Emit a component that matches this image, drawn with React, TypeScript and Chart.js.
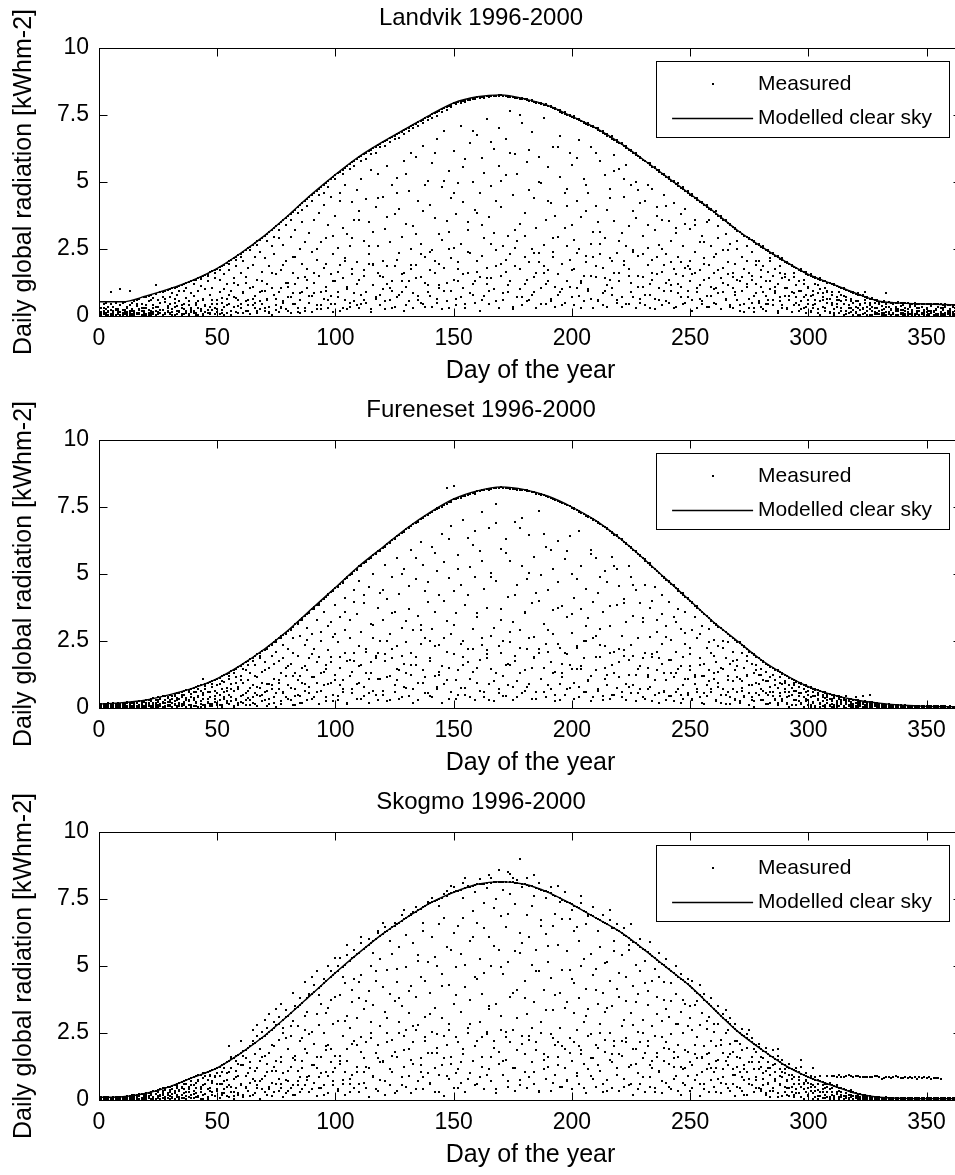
import React, { useEffect, useRef } from "react";
import { Chart, registerables } from "chart.js";

Chart.register(...registerables);

const FONT = "'Liberation Sans', Arial, Helvetica, sans-serif";

// ---------- data ----------
const clearDays = [0, 10, 20, 30, 40, 50, 60, 70, 80, 90, 100, 110, 120, 130, 140, 150, 160, 170, 180, 190, 200, 210, 220, 230, 240, 250, 260, 270, 280, 290, 300, 310, 320, 330, 340, 350, 360, 365];

const landvikClear = [0.53, 0.53, 0.75, 1.02, 1.35, 1.78, 2.35, 3.0, 3.75, 4.55, 5.28, 5.95, 6.5, 7.0, 7.5, 7.95, 8.18, 8.25, 8.1, 7.85, 7.45, 7.02, 6.48, 5.85, 5.2, 4.55, 3.9, 3.2, 2.6, 2.05, 1.55, 1.2, 0.85, 0.55, 0.48, 0.45, 0.42, 0.41];
const furenesetClear = [0.15, 0.2, 0.3, 0.5, 0.75, 1.1, 1.6, 2.2, 2.9, 3.7, 4.5, 5.3, 6.0, 6.7, 7.3, 7.8, 8.1, 8.25, 8.15, 7.9, 7.5, 7.0, 6.35, 5.6, 4.8, 4.0, 3.2, 2.5, 1.8, 1.25, 0.8, 0.5, 0.3, 0.18, 0.1, 0.06, 0.05, 0.05];
const skogmoClear = [0.1, 0.12, 0.25, 0.5, 0.85, 1.2, 1.75, 2.4, 3.15, 3.95, 4.75, 5.5, 6.2, 6.8, 7.35, 7.75, 8.05, 8.15, 8.05, 7.75, 7.3, 6.8, 6.3, 5.65, 4.95, 4.25, 3.4, 2.57, 1.9, 1.3, 0.85, 0.55, 0.25, 0.1, 0.06, 0.05, 0.05, 0.05];

// measured values, one row per day of the year (day 0 .. 365), part A
const landvikMeasuredA: number[][] = [
  [0.16,0.05,0.3],[0.31,0.14,0.02],[0.28,0.45,0.1],[0.5,0.12,0.03],[0.2,0.04,0.35],[0.44,0.08,0.9],[0.33,0.18,0.01],[0.05,0.48,0.22],[0.12,0.27,0.06],[0.02,0.4,1.0],
  [0.47,0.11,0.03],[0.22,0.52,0.08],[0.01,0.3,0.15],[0.95,0.18,0.42],[0.26,0.03,0.5],[0.55,0.09,0.2],[0.13,0.36,0.6],[0.64,0.07,0.25],[0.02,0.43,0.17],[0.7,0.28,0.05],
  [0.3,0.72,0.04],[0.12,0.55,0.76],[0.79,0.2,0.02],[0.41,0.08,0.66],[1.15,0.35,0.82],[0.06,0.6,0.15],[0.88,0.24,0.47],[0.03,0.71,0.91],[0.52,0.93,0.1],[0.96,0.19,0.37],
  [0.45,1.0,0.07],[0.84,0.15,1.03],[1.06,0.33,0.62],[0.09,0.78,1.1],[0.57,1.13,0.2],[1.16,0.03,0.41],[0.27,0.95,1.2],[1.22,0.68,0.11],[0.4,0.05,1.27],[1.3,0.85,0.22],
  [0.13,1.33,0.74],[1.36,0.5,0.04],[0.94,1.42,0.29],[1.46,0.18,1.12],[0.62,1.5,0.08],[1.53,0.36,0.99],[0.21,1.58,1.3],[1.63,0.77,0.12],[1.05,1.67,0.45],[0.3,1.72,1.4],
  [1.75,0.58,0.15],[0.9,1.82,1.36],[1.87,0.24,0.67],[1.55,1.92,0.05],[0.42,1.99,1.2],[2.05,0.8,1.7],[0.17,2.1,0.95],[2.15,1.4,0.35],[0.68,2.22,1.85],[2.27,0.1,1.15],
  [1.6,2.33,0.45],[2.4,0.9,2.05],[0.2,2.46,1.25],[2.53,1.8,0.6],[1.05,2.59,0.08],[2.66,0.4,1.9],[2.2,2.72,0.75],[2.79,1.35,0.18],[0.55,2.85,2.4],[2.92,1.65,0.95],
  [0.3,2.98,2.15],[3.06,1.2,0.62],[1.85,3.13,0.12],[3.21,2.6,1.05],[0.78,3.28,2.3],[3.36,0.22,1.55],[2.9,3.43,0.9],[3.51,1.7,0.35],[0.5,3.58,2.65],[3.66,2.05,1.25],
  [1.1,3.73,0.2],[3.81,2.95,0.7],[2.2,3.89,1.6],[3.97,0.45,3.2],[1.4,4.05,0.15],[4.13,2.5,0.85],[3.5,4.21,1.95],[4.29,0.3,2.75],[1.75,4.37,1.05],[4.45,3.1,0.5],
  [2.4,4.53,0.75],[4.6,1.25,3.6],[0.25,4.68,2.1],[4.75,3.85,1.5],[2.75,4.82,0.4],[4.9,1.8,4.15],[0.95,4.97,2.9],[5.04,3.4,0.6],[1.55,5.11,4.45],[5.19,2.3,0.15],
  [3.75,5.26,1.3],[5.33,0.7,2.55],[4.6,5.39,1.9],[5.46,0.3,3.3],[2.15,5.53,4.9],[5.6,1.1,3.05],[0.5,5.66,2.6],[5.73,4.25,1.55],[3.6,5.8,0.85],[5.86,2.0,4.7],
  [1.35,5.93,3.9],[5.98,5.1,0.45],[2.8,6.04,1.7],[6.09,0.9,4.35],[3.5,6.15,2.3],[6.2,5.45,0.25],[1.95,6.26,3.15],[6.31,0.65,4.05],[5.3,6.37,2.6],[6.42,1.5,0.8],
  [4.45,6.48,2.05],[6.53,3.25,0.55],[1.2,6.58,5.6],[6.63,2.75,1.05],[4.9,6.68,0.3],[6.73,1.85,3.8],[0.7,6.78,5.15],[6.83,4.0,2.35],[2.95,6.88,0.9],[6.93,5.8,1.6],
  [3.45,6.98,0.4],[7.03,1.3,4.65],[6.1,7.08,2.5],[7.13,0.85,3.35],[1.9,7.18,5.95],[7.23,4.3,0.6],[2.7,7.28,1.45],[7.33,6.35,3.9],[0.35,7.38,2.2],[7.43,5.05,1.15],
  [4.15,7.48,0.75],[7.53,2.45,5.7],[1.6,7.57,3.65],[7.62,6.6,0.5],[3.05,7.66,1.95],[7.71,4.8,2.85],[0.95,7.75,6.9],[7.8,3.55,1.25],[5.4,7.84,0.3],[7.89,2.15,4.4],
  [2.55,7.93,6.15],[7.95,0.65,3.8],[4.95,7.98,1.75],[8.0,7.1,2.7],[1.05,8.02,4.25],[8.05,5.85,0.45],[3.2,8.07,1.6],[8.09,2.35,6.45],[0.8,8.11,5.0],[8.14,3.95,1.3],
  [6.75,8.16,2.05],[8.17,1.45,4.6],[3.4,8.18,0.6],[8.19,5.35,2.9],[1.8,8.2,7.35],[8.2,3.7,0.95],[4.85,8.21,1.4],[8.22,6.25,3.1],[0.55,8.22,2.45],[8.23,5.6,7.0],
  [1.95,8.23,4.05],[8.22,0.85,2.6],[5.25,8.2,6.6],[8.19,3.0,1.15],[2.3,8.17,7.65],[8.16,4.5,0.35],[6.05,8.14,1.85],[8.13,2.8,5.3],[1.0,8.11,3.45],[8.1,7.2,0.7],
  [3.85,8.08,2.2],[8.06,5.75,1.35],[0.6,8.03,4.7],[8.01,2.5,6.85],[4.4,7.98,0.9],[7.96,1.6,3.3],[5.95,7.93,2.0],[7.91,0.45,4.95],[2.65,7.88,7.4],[7.86,3.6,1.2],
  [1.7,7.83,5.55],[7.79,4.2,0.55],[6.3,7.75,2.4],[7.71,1.1,3.75],[2.95,7.67,0.8],[7.63,5.2,6.7],[0.4,7.59,1.95],[7.55,3.3,4.6],[4.75,7.51,1.3],[7.47,2.1,6.1],
  [5.65,7.43,0.7],[7.39,2.85,1.75],[1.05,7.34,4.3],[7.3,6.55,2.5],[3.7,7.26,0.3],[7.22,1.5,5.1],[2.25,7.17,3.9],[7.13,4.6,1.0],[0.65,7.09,6.3],[7.04,3.15,2.2],
  [4.1,7.0,1.45],[6.95,0.55,3.5],[2.7,6.89,5.8],[6.84,1.8,0.4],[5.25,6.78,2.9],[6.73,3.95,1.15],[1.35,6.68,4.75],[6.62,0.8,2.05],[3.55,6.57,6.0],[6.51,2.35,0.6],
  [5.5,6.46,1.6],[6.4,3.1,0.35],[1.9,6.33,4.45],[6.27,2.6,5.65],[0.45,6.21,3.35],[6.15,4.9,1.25],[2.45,6.08,0.7],[6.02,3.65,5.0],[1.1,5.96,2.25],[5.89,4.2,0.5],
  [3.0,5.83,1.45],[5.77,0.8,4.3],[2.55,5.7,3.4],[5.64,1.2,0.3],[4.75,5.57,2.1],[5.51,3.2,0.65],[1.55,5.44,4.05],[5.38,2.65,1.05],[0.4,5.31,3.6],[5.25,4.5,1.9],
  [2.3,5.18,0.55],[5.12,3.55,1.35],[0.95,5.05,2.8],[4.99,1.75,4.2],[3.1,4.92,0.35],[4.86,2.2,1.2],[0.7,4.79,3.8],[4.73,1.5,2.6],[3.45,4.66,0.5],[4.6,0.95,1.85],
  [2.05,4.53,3.25],[4.47,0.6,1.55],[3.6,4.4,2.4],[4.34,1.05,0.3],[2.75,4.27,1.7],[4.21,0.45,3.0],[1.35,4.14,2.15],[4.08,3.5,0.75],[0.35,4.01,1.9],[3.95,2.6,1.1],
  [1.6,3.88,0.5],[3.81,2.3,1.05],[0.85,3.74,2.9],[3.67,1.4,0.25],[2.45,3.6,1.8],[3.53,0.65,3.05],[1.15,3.46,2.0],[3.39,2.7,0.4],[0.3,3.32,1.45],[3.25,1.95,0.9],
  [2.5,3.18,0.6],[3.12,1.3,0.2],[0.95,3.06,2.2],[3.0,1.75,0.45],[2.05,2.94,1.1],[2.88,0.3,1.6],[1.35,2.82,2.4],[2.76,0.75,0.15],[1.9,2.7,1.2],[2.64,0.5,2.05],
  [1.45,2.58,0.35],[2.53,0.9,1.85],[0.2,2.47,1.3],[2.42,1.65,0.6],[1.0,2.36,2.05],[2.31,0.4,1.5],[1.75,2.25,0.85],[2.2,1.2,0.1],[0.55,2.14,1.6],[2.09,1.4,0.3],
  [0.75,2.03,1.55],[1.98,0.25,1.05],[1.35,1.93,0.6],[1.88,0.9,0.15],[0.4,1.83,1.45],[1.78,1.15,0.7],[0.2,1.73,1.3],[1.68,0.55,0.95],[1.2,1.63,0.3],[1.58,0.8,0.1],
  [0.45,1.53,1.1],[1.5,0.15,0.75],[0.95,1.46,0.4],[1.43,0.6,1.2],[0.25,1.39,0.85],[1.36,1.0,0.05],[0.7,1.32,0.35],[1.29,0.2,1.05],[0.9,1.25,0.5],[1.22,0.1,0.65],
  [0.4,1.18,0.8],[1.15,0.25,0.05],[0.7,1.11,0.45],[1.08,0.12,0.9],[0.55,1.04,0.3],[1.01,0.75,0.02],[0.2,0.97,0.6],[0.94,0.4,0.1],[0.65,0.9,0.28],[0.87,0.05,0.5],
  [0.35,0.83,0.12],[0.8,0.55,0.03],[0.22,0.77,0.45],[0.74,0.08,0.3],[0.5,0.71,0.9],[0.68,0.18,0.04],[0.4,0.65,0.25],[0.62,0.02,0.35],[0.14,0.59,0.48],[0.57,0.3,0.06],
  [0.2,0.54,0.09],[0.53,0.38,0.02],[0.11,0.52,0.26],[0.85,0.05,0.44],[0.32,0.51,0.15],[0.5,0.02,0.21],[0.07,0.43,0.5],[0.5,0.17,0.34],[0.27,0.49,0.04],[0.49,0.1,0.39],
  [0.03,0.47,0.23],[0.47,0.31,0.08],[0.16,0.47,0.02],[0.41,0.06,0.46],[0.46,0.24,0.13],[0.01,0.36,0.46],[0.45,0.11,0.28],[0.19,0.45,0.05],[0.45,0.33,0.09],[0.04,0.21,0.44],
  [0.44,0.14,0.3],[0.09,0.44,0.02],[0.37,0.2,0.44],[0.43,0.05,0.17],[0.25,0.43,0.08],[0.43,0.35,0.01],[0.12,0.29,0.43],[0.42,0.07,0.22],[0.02,0.42,0.33],[0.42,0.18,0.06],
  [0.1,0.41,0.26],[0.41,0.03,0.15],[0.31,0.41,0.07],[0.41,0.21,0.01],[0.05,0.38,0.41],[0.4,0.13,0.24]
];

// part B (two further values per day)
const landvikMeasuredB: number[][] = [
  [0.08,0.2],[0.03,0.12],[0.18,0.06],[0.1,0.25],[0.05,0.15],[0.22,0.02],[0.09,0.13],[0.27,0.04],[0.06,0.19],[0.14,0.01],
  [0.04,0.24],[0.16,0.09],[0.07,0.33],[0.11,0.02],[0.2,0.06],[0.01,0.14],[0.09,0.45],[0.23,0.1],[0.05,0.31],[0.17,0.12],
  [0.06,0.4],[0.22,0.03],[0.1,0.58],[0.28,0.14],[0.02,0.19],[0.35,0.09],[0.13,0.5],[0.21,0.05],[0.08,0.62],[0.3,0.16],
  [0.12,0.7],[0.25,0.05],[0.04,0.48],[0.36,0.18],[0.15,0.92],[0.09,0.3],[0.45,0.06],[0.2,1.05],[0.07,0.55],[0.31,0.14],
  [0.18,1.2],[0.1,0.42],[0.55,0.03],[0.26,1.38],[0.05,0.6],[0.4,0.15],[0.12,1.5],[0.34,0.07],[0.6,0.22],[0.09,1.62],
  [0.25,0.45],[0.07,1.7],[0.5,0.13],[0.32,1.0],[0.1,0.65],[0.45,1.95],[0.2,0.05],[0.7,1.25],[0.15,2.1],[0.38,0.6],
  [0.28,2.2],[0.1,0.85],[0.55,1.45],[0.4,0.2],[0.08,2.45],[0.65,1.1],[0.3,0.5],[0.12,2.65],[0.9,0.25],[0.45,1.3],
  [0.2,0.95],[0.6,2.8],[0.35,0.15],[0.05,1.6],[0.8,2.95],[0.4,0.65],[0.15,3.2],[1.05,0.3],[0.55,1.9],[0.25,3.4],
  [0.7,1.25],[0.12,3.6],[0.45,0.85],[1.2,2.2],[0.3,3.85],[0.6,0.1],[0.9,3.95],[0.2,1.45],[1.35,4.1],[0.5,0.75],
  [0.15,4.3],[0.85,1.6],[0.4,2.5],[1.5,4.5],[0.25,0.9],[0.65,4.6],[1.1,1.95],[0.3,4.8],[0.75,0.45],[1.3,3.0],
  [0.45,5.1],[0.9,1.65],[0.2,4.3],[1.4,5.3],[0.6,2.05],[1.0,0.25],[0.35,5.5],[1.75,2.9],[0.55,5.6],[1.2,0.4],
  [0.3,3.6],[0.8,5.8],[1.5,0.6],[0.5,5.85],[1.95,2.6],[0.15,6.05],[1.15,1.9],[0.7,6.1],[1.6,4.4],[0.4,6.3],
  [1.0,1.45],[0.25,6.35],[1.85,3.7],[0.6,6.5],[1.3,0.95],[0.35,6.6],[2.1,4.6],[0.8,6.65],[1.55,1.3],[0.2,6.8],
  [1.1,5.3],[0.55,6.9],[1.9,1.75],[0.3,7.0],[1.4,3.05],[0.75,7.1],[2.3,0.5],[0.45,7.2],[1.25,4.9],[0.9,7.3],
  [1.7,2.4],[0.35,7.4],[2.05,6.1],[0.65,7.45],[1.15,1.05],[0.25,7.6],[1.8,5.05],[0.55,7.7],[2.5,3.15],[0.95,7.8],
  [1.35,4.6],[0.4,7.9],[2.0,1.3],[0.7,7.95],[1.55,5.55],[0.3,8.0],[2.4,3.5],[0.85,8.05],[1.2,6.9],[0.5,8.1],
  [1.65,3.85],[0.2,8.12],[2.25,5.9],[0.75,8.15],[1.4,1.2],[0.45,8.18],[2.7,6.5],[1.0,8.2],[1.85,4.3],[0.3,8.2],
  [1.5,5.05],[0.6,8.22],[2.1,1.65],[0.9,8.2],[1.3,6.1],[0.25,8.18],[2.55,3.2],[0.7,8.15],[1.75,7.5],[0.4,8.12],
  [1.2,3.0],[0.55,8.08],[2.0,6.2],[0.8,8.05],[1.45,2.35],[0.3,8.0],[2.35,5.0],[1.05,7.95],[1.6,1.85],[0.45,7.9],
  [1.3,4.3],[0.65,7.85],[2.2,2.9],[0.35,7.75],[1.55,6.3],[0.9,7.7],[1.95,1.0],[0.5,7.6],[2.6,4.1],[1.1,7.5],
  [1.7,3.4],[0.4,7.45],[2.35,5.9],[0.75,7.35],[1.25,1.3],[0.55,7.25],[2.0,4.9],[0.95,7.2],[1.5,2.7],[0.3,7.1],
  [1.85,6.1],[0.6,7.0],[2.3,3.15],[0.85,6.9],[1.4,0.95],[0.35,6.8],[2.15,4.4],[1.05,6.7],[1.6,5.4],[0.5,6.55],
  [1.3,2.8],[0.7,6.45],[2.05,5.1],[0.45,6.35],[1.75,1.5],[0.9,6.2],[2.4,3.9],[0.3,6.1],[1.5,4.7],[0.65,5.95],
  [1.1,2.3],[0.4,5.8],[1.9,4.9],[0.8,5.7],[1.35,1.6],[0.25,5.55],[2.2,3.75],[0.6,5.45],[1.65,2.5],[0.95,5.3],
  [1.25,4.1],[0.5,5.2],[2.0,1.15],[0.3,5.05],[1.55,3.3],[0.85,4.95],[1.1,2.0],[0.45,4.8],[1.8,4.0],[0.7,4.65],
  [1.3,1.75],[0.2,4.55],[1.6,3.4],[0.9,4.4],[1.15,0.65],[0.55,4.25],[1.95,2.75],[0.35,4.15],[1.4,3.6],[0.75,4.0],
  [1.0,2.2],[0.45,3.9],[1.7,3.35],[0.25,3.75],[1.25,0.9],[0.6,3.6],[1.55,2.45],[0.35,3.45],[1.05,1.6],[0.8,3.3],
  [1.35,2.8],[0.4,3.15],[0.95,1.45],[0.15,3.0],[1.2,2.6],[0.65,2.9],[1.5,0.5],[0.3,2.8],[0.85,2.05],[0.55,2.7],
  [1.1,1.7],[0.25,2.6],[0.75,0.45],[0.45,2.45],[1.3,2.15],[0.6,2.35],[0.95,1.1],[0.2,2.25],[0.7,1.85],[0.4,2.15],
  [1.05,1.45],[0.3,2.0],[0.6,0.75],[0.15,1.9],[0.85,1.6],[0.5,1.8],[0.95,0.4],[0.25,1.75],[0.7,1.35],[0.35,1.65],
  [0.6,1.05],[0.2,1.55],[0.8,0.3],[0.45,1.45],[0.1,1.15],[0.55,1.4],[0.85,0.6],[0.3,1.32],[0.65,0.95],[0.15,1.25],
  [0.5,0.9],[0.12,1.2],[0.35,0.6],[0.6,1.1],[0.2,0.8],[0.45,1.05],[0.08,0.7],[0.3,0.95],[0.55,0.15],[0.22,0.9],
  [0.15,0.55],[0.3,0.85],[0.05,0.4],[0.25,0.8],[0.12,0.6],[0.35,0.72],[0.02,0.5],[0.2,0.66],[0.28,0.08],[0.1,0.6],
  [0.06,0.45],[0.22,0.12],[0.04,0.55],[0.15,0.32],[0.08,0.52],[0.25,0.04],[0.12,0.48],[0.03,0.27],[0.18,0.51],[0.07,0.22],
  [0.12,0.4],[0.02,0.18],[0.27,0.1],[0.06,0.35],[0.15,0.03],[0.09,0.48],[0.2,0.06],[0.04,0.3],[0.13,0.46],[0.07,0.16],
  [0.02,0.26],[0.18,0.06],[0.1,0.39],[0.04,0.14],[0.21,0.02],[0.08,0.44],[0.15,0.05],[0.03,0.28],[0.11,0.43],[0.06,0.12],
  [0.18,0.03],[0.08,0.34],[0.02,0.2],[0.13,0.42],[0.09,0.05],[0.2,0.32]
];

const furenesetMeasuredA: number[][] = [
  [0.03,0.12,0.07],[0.14,0.01,0.09],[0.05,0.16,0.11],[0.1,0.02,0.15],[0.17,0.06,0.01],[0.08,0.13,0.04],[0.02,0.11,0.17],[0.15,0.05,0.09],[0.12,0.18,0.03],[0.06,0.01,0.14],
  [0.19,0.08,0.02],[0.04,0.15,0.11],[0.21,0.01,0.07],[0.09,0.18,0.13],[0.02,0.23,0.06],[0.16,0.1,0.24],[0.05,0.2,0.01],[0.26,0.12,0.07],[0.03,0.17,0.27],[0.22,0.09,0.04],
  [0.13,0.28,0.02],[0.06,0.3,0.19],[0.25,0.01,0.33],[0.11,0.36,0.08],[0.31,0.17,0.04],[0.02,0.24,0.4],[0.37,0.09,0.15],[0.2,0.44,0.05],[0.03,0.29,0.46],[0.41,0.13,0.22],
  [0.08,0.49,0.3],[0.45,0.02,0.18],[0.26,0.53,0.11],[0.55,0.38,0.04],[0.14,0.57,0.33],[0.6,0.06,0.47],[0.22,0.62,0.1],[0.39,0.01,0.66],[0.68,0.29,0.12],[0.05,0.71,0.52],
  [0.74,0.36,0.09],[0.18,0.77,0.58],[0.81,0.03,0.42],[0.27,0.84,0.65],[1.1,0.12,0.5],[0.88,0.72,0.04],[0.35,0.93,0.2],[0.96,0.6,0.08],[0.15,1.0,0.79],[1.03,0.44,0.24],
  [0.55,1.08,0.1],[1.13,0.3,0.88],[0.7,1.18,0.02],[1.22,0.97,0.4],[0.18,1.27,0.75],[1.32,0.5,1.1],[0.9,1.37,0.26],[1.42,0.06,0.62],[1.15,1.47,0.35],[1.52,0.8,0.12],
  [0.45,1.58,1.2],[1.64,0.95,0.2],[0.3,1.7,1.4],[1.76,0.65,1.05],[1.3,1.82,0.1],[1.88,0.4,0.85],[0.15,1.94,1.6],[2.0,1.15,0.5],[0.75,2.06,1.85],[2.12,0.25,1.35],
  [1.7,2.18,0.6],[2.25,0.9,0.08],[0.35,2.32,1.5],[2.39,1.95,0.7],[1.1,2.46,0.2],[2.53,0.55,2.1],[1.75,2.6,0.95],[2.67,0.15,1.3],[0.6,2.74,2.35],[2.81,1.5,0.4],
  [2.2,2.88,0.85],[2.96,0.3,1.65],[1.2,3.04,2.6],[3.12,0.7,0.1],[1.95,3.2,1.05],[3.28,2.7,0.45],[0.2,3.36,1.5],[3.44,2.35,0.9],[1.4,3.52,3.0],[3.6,0.55,1.85],
  [2.75,3.68,0.35],[3.76,1.15,2.2],[0.6,3.84,3.3],[3.92,1.9,0.15],[2.5,4.0,1.3],[4.08,0.85,3.6],[1.6,4.16,0.4],[4.24,3.05,2.15],[0.95,4.32,1.7],[4.4,2.65,0.25],
  [3.85,4.48,1.25],[4.56,0.45,2.45],[1.9,4.64,3.4],[4.72,1.05,0.6],[2.9,4.8,4.1],[4.88,0.2,1.75],[3.3,4.96,2.6],[5.04,1.35,0.7],[4.4,5.12,2.05],[5.2,0.9,3.5],
  [1.55,5.28,4.75],[5.35,2.85,0.35],[0.8,5.42,3.9],[5.49,2.2,1.3],[4.5,5.56,0.55],[5.63,1.7,3.15],[2.6,5.7,5.0],[5.77,0.5,1.95],[3.75,5.84,1.1],[5.91,4.3,2.5],
  [0.65,5.98,3.3],[6.05,2.0,5.35],[4.05,6.12,1.15],[6.19,0.3,2.75],[1.85,6.26,4.9],[6.33,3.6,0.85],[5.6,6.4,2.3],[6.47,1.4,4.25],[0.4,6.54,3.0],[6.61,5.2,1.65],
  [2.45,6.68,0.75],[6.74,4.55,3.7],[1.25,6.8,5.9],[6.86,2.9,0.2],[4.8,6.92,1.9],[6.98,0.95,3.45],[3.1,7.04,6.2],[7.1,5.35,1.4],[0.55,7.16,2.6],[7.22,3.95,4.7],
  [1.75,7.28,0.45],[7.33,6.0,2.95],[3.6,7.38,1.2],[7.43,0.7,5.1],[2.35,7.48,4.2],[7.53,1.55,6.5],[5.45,7.58,0.9],[8.2,3.25,2.1],[0.35,7.68,4.85],[7.73,2.75,6.8],
  [4.35,7.78,8.3],[7.81,1.05,3.55],[5.7,7.84,0.5],[7.87,2.4,4.6],[1.6,7.9,7.0],[7.93,3.85,0.75],[6.35,7.96,2.2],[7.99,0.4,5.25],[2.95,8.02,1.35],[8.05,4.9,6.6],
  [0.95,8.08,3.4],[8.1,5.85,1.8],[2.6,8.12,7.3],[8.14,0.6,4.45],[3.75,8.16,2.15],[8.18,6.7,0.3],[1.45,8.19,5.05],[8.2,3.0,1.0],[4.75,8.21,7.6],[8.22,2.3,0.55],
  [5.95,8.23,3.7],[8.22,1.2,2.5],[0.45,8.21,6.3],[8.2,4.15,1.65],[2.85,8.19,5.5],[8.18,0.8,3.2],[6.95,8.17,1.95],[8.16,4.6,0.4],[1.3,8.15,2.9],[8.14,5.3,7.1],
  [3.55,8.13,0.65],[8.11,2.2,4.8],[0.9,8.09,6.45],[8.07,3.9,1.5],[5.65,8.05,2.65],[8.03,0.35,4.3],[2.05,8.0,7.35],[7.97,4.95,1.1],[0.6,7.94,3.15],[7.91,6.0,2.4],
  [4.4,7.88,0.85],[7.84,1.7,5.9],[2.75,7.8,3.65],[7.76,0.5,1.35],[6.25,7.72,4.7],[7.68,2.25,0.3],[1.15,7.64,3.8],[7.6,5.55,2.05],[3.4,7.56,0.7],[7.52,1.6,6.4],
  [5.0,7.48,2.8],[7.43,0.95,4.1],[2.3,7.38,1.45],[7.33,6.6,0.4],[3.7,7.28,5.3],[7.23,1.85,2.5],[0.6,7.18,4.45],[7.13,3.35,1.05],[5.75,7.08,0.25],[7.03,2.6,3.95],
  [1.4,6.98,5.6],[6.92,4.3,0.7],[2.95,6.86,1.9],[6.8,0.45,3.6],[5.1,6.74,2.3],[6.68,1.25,4.7],[0.35,6.61,3.05],[6.54,5.65,1.6],[2.1,6.47,0.5],[6.4,3.85,5.2],
  [4.55,6.33,1.15],[6.26,0.6,2.7],[1.95,6.19,4.05],[6.12,3.2,0.3],[5.3,6.05,1.8],[5.98,2.35,4.9],[0.85,5.9,3.45],[5.82,4.4,1.25],[2.6,5.74,0.55],[5.66,1.55,3.9],
  [3.35,5.58,0.4],[5.5,2.05,4.6],[0.7,5.42,1.5],[5.34,3.75,2.65],[1.9,5.26,0.25],[5.18,4.5,1.05],[2.85,5.1,3.3],[5.02,0.55,1.85],[4.2,4.94,2.4],[4.86,1.3,0.65],
  [3.05,4.78,0.3],[4.7,1.8,3.95],[0.45,4.62,2.55],[4.54,3.4,1.15],[2.1,4.46,0.6],[4.38,1.45,3.7],[2.95,4.3,0.2],[4.22,0.85,1.9],[3.6,4.14,2.4],[4.06,1.1,0.5],
  [2.25,3.98,1.55],[3.9,0.35,2.9],[1.25,3.82,3.4],[3.74,2.6,0.7],[0.4,3.66,1.85],[3.58,3.05,1.2],[1.65,3.5,0.15],[3.42,2.25,0.85],[2.95,3.34,1.4],[3.26,0.6,2.05],
  [1.1,3.18,2.55],[3.11,0.3,1.7],[2.3,3.04,0.95],[2.97,1.5,0.2],[0.7,2.9,2.25],[2.83,1.85,0.5],[2.45,2.76,1.2],[2.69,0.15,1.65],[1.0,2.62,2.1],[2.55,1.4,0.35],
  [0.6,2.48,1.8],[2.41,1.1,0.25],[2.05,2.34,0.75],[2.27,0.45,1.5],[1.25,2.2,1.95],[2.13,0.1,0.85],[1.65,2.06,0.4],[1.99,1.3,0.05],[0.55,1.92,1.6],[1.85,0.9,1.25],
  [1.45,1.78,0.3],[1.72,0.65,1.05],[0.15,1.66,1.35],[1.6,1.0,0.5],[0.8,1.54,0.2],[1.48,1.25,0.6],[0.35,1.43,1.05],[1.38,0.75,0.1],[1.15,1.33,0.45],[1.28,0.25,0.9],
  [0.6,1.23,1.0],[1.18,0.15,0.4],[0.85,1.13,0.05],[1.08,0.5,0.75],[0.3,1.03,0.95],[0.98,0.65,0.1],[0.45,0.94,0.8],[0.9,0.2,0.55],[0.7,0.86,0.02],[0.82,0.35,0.6],
  [0.12,0.78,0.5],[0.75,0.4,0.05],[0.6,0.72,0.22],[0.69,0.08,0.45],[0.3,0.66,0.55],[0.63,0.15,0.02],[0.42,0.6,0.25],[0.57,0.05,0.36],[0.2,0.54,0.48],[0.51,0.33,0.1],
  [0.04,0.48,0.27],[0.46,0.38,0.12],[0.18,0.44,0.02],[0.42,0.08,0.33],[0.4,0.25,0.14],[0.06,0.38,0.3],[0.45,0.21,0.01],[0.34,0.11,0.27],[0.03,0.32,0.19],[0.3,0.15,0.06],
  [0.28,0.09,0.4],[0.2,0.27,0.02],[0.13,0.26,0.07],[0.45,0.05,0.18],[0.24,0.11,0.01],[0.04,0.22,0.16],[0.21,0.48,0.08],[0.02,0.2,0.12],[0.19,0.06,0.15],[0.1,0.18,0.03],
  [0.16,0.04,0.11],[0.07,0.15,0.02],[0.14,0.09,0.05],[0.01,0.13,0.1],[0.12,0.06,0.03],[0.09,0.11,0.01],[0.02,0.1,0.07],[0.1,0.04,0.08],[0.06,0.1,0.01],[0.03,0.09,0.05],
  [0.09,0.02,0.06],[0.04,0.08,0.01],[0.08,0.05,0.03],[0.01,0.07,0.09],[0.06,0.02,0.08],[0.07,0.04,0.01],[0.02,0.08,0.05],[0.05,0.01,0.07],[0.08,0.03,0.02],[0.03,0.06,0.04],
  [0.06,0.01,0.04],[0.02,0.05,0.07],[0.05,0.03,0.01],[0.07,0.02,0.05],[0.01,0.06,0.03],[0.04,0.07,0.02],[0.06,0.02,0.05],[0.03,0.05,0.01],[0.05,0.01,0.06],[0.02,0.04,0.03],
  [0.05,0.02,0.04],[0.01,0.05,0.03],[0.04,0.01,0.05],[0.03,0.05,0.02],[0.05,0.03,0.01],[0.02,0.04,0.05]
];

const furenesetMeasuredB: number[][] = [
  [0.04,0.09],[0.11,0.02],[0.07,0.13],[0.01,0.05],[0.12,0.08],[0.03,0.16],[0.1,0.04],[0.06,0.14],[0.02,0.08],[0.15,0.1],
  [0.05,0.14],[0.1,0.03],[0.17,0.07],[0.02,0.12],[0.09,0.19],[0.13,0.03],[0.07,0.22],[0.01,0.1],[0.15,0.06],[0.08,0.25],
  [0.04,0.18],[0.15,0.08],[0.09,0.27],[0.2,0.02],[0.06,0.14],[0.28,0.1],[0.12,0.35],[0.03,0.22],[0.18,0.09],[0.08,0.38],
  [0.21,0.1],[0.05,0.34],[0.14,0.44],[0.3,0.07],[0.09,0.2],[0.42,0.15],[0.18,0.5],[0.04,0.28],[0.25,0.58],[0.12,0.4],
  [0.3,0.6],[0.08,0.22],[0.45,0.7],[0.16,0.05],[0.55,0.35],[0.1,0.82],[0.24,0.6],[0.4,0.15],[0.06,0.9],[0.33,0.65],
  [0.2,0.85],[0.48,0.12],[0.1,1.0],[0.35,0.6],[0.62,0.25],[0.15,1.2],[0.4,0.7],[0.05,1.3],[0.28,0.95],[0.7,0.18],
  [0.22,1.05],[0.5,1.45],[0.1,0.55],[0.38,1.6],[0.75,0.3],[0.18,1.75],[0.55,1.2],[0.08,0.8],[0.45,1.95],[0.95,0.5],
  [0.3,1.4],[0.62,2.2],[0.15,0.9],[0.85,2.35],[0.4,1.65],[0.05,2.45],[1.05,0.7],[0.25,2.6],[0.55,1.85],[1.2,2.75],
  [0.35,1.55],[0.75,2.9],[0.1,2.05],[1.3,0.45],[0.5,3.15],[0.2,1.2],[0.95,3.3],[1.55,0.65],[0.3,2.55],[0.8,3.55],
  [1.15,2.0],[0.4,3.7],[1.7,0.95],[0.15,3.85],[0.65,2.85],[1.35,4.05],[0.25,1.45],[0.9,4.2],[1.9,3.2],[0.5,4.35],
  [1.05,2.75],[0.3,4.5],[1.5,0.85],[0.7,4.65],[2.05,3.6],[0.15,4.85],[1.2,1.8],[0.55,5.0],[1.75,3.95],[0.35,5.15],
  [0.95,2.3],[1.6,5.3],[0.45,4.2],[2.1,5.45],[0.2,1.1],[1.3,5.6],[0.65,3.1],[1.85,5.75],[0.3,2.05],[1.1,5.85],
  [0.5,4.4],[1.75,6.0],[0.25,2.5],[1.2,6.15],[2.2,3.55],[0.6,6.3],[1.45,1.05],[0.35,6.45],[1.95,5.0],[0.8,6.55],
  [1.3,3.25],[0.45,6.7],[2.05,1.6],[0.7,6.85],[1.6,5.6],[0.3,6.95],[2.4,2.9],[0.95,7.1],[1.15,4.35],[0.55,7.2],
  [1.85,2.5],[0.4,7.3],[2.3,5.8],[0.8,7.45],[1.35,1.25],[0.2,7.5],[2.6,4.0],[1.05,7.6],[1.5,6.3],[0.6,7.7],
  [2.0,3.1],[0.35,7.8],[1.4,5.2],[0.75,7.85],[2.5,1.9],[0.5,7.9],[1.7,4.2],[1.1,8.0],[2.2,6.1],[0.3,8.0],
  [1.5,3.55],[0.65,8.1],[2.35,5.5],[0.4,8.15],[1.85,2.0],[0.9,8.15],[2.7,4.9],[0.25,8.2],[1.3,6.9],[0.7,8.2],
  [2.05,3.3],[0.45,8.22],[1.6,5.8],[0.85,8.2],[2.45,1.6],[0.3,8.18],[1.75,4.2],[1.0,8.15],[2.25,6.7],[0.55,8.15],
  [1.4,3.6],[0.8,8.12],[2.6,5.05],[0.35,8.05],[1.9,1.85],[0.6,8.0],[2.2,4.0],[1.1,7.95],[1.5,6.5],[0.4,7.9],
  [2.1,2.9],[0.7,7.85],[1.3,5.2],[0.25,7.75],[2.4,3.75],[0.9,7.7],[1.65,1.3],[0.5,7.6],[2.0,5.85],[0.75,7.55],
  [1.45,3.5],[0.35,7.45],[2.25,4.8],[0.8,7.35],[1.55,1.45],[0.6,7.25],[2.5,3.05],[1.0,7.15],[1.2,5.9],[0.4,7.05],
  [1.9,2.7],[0.65,6.95],[2.35,4.9],[0.3,6.8],[1.5,1.1],[0.85,6.7],[2.05,3.8],[0.5,6.55],[1.3,5.3],[0.75,6.45],
  [1.7,2.2],[0.4,6.3],[2.15,3.9],[0.9,6.15],[1.25,0.8],[0.55,6.0],[1.95,4.6],[0.25,5.85],[1.45,2.6],[0.7,5.7],
  [1.85,3.2],[0.35,5.55],[1.15,1.25],[0.8,5.4],[2.0,4.0],[0.5,5.2],[1.4,2.1],[0.2,5.05],[1.65,3.5],[0.6,4.9],
  [1.05,2.65],[0.45,4.75],[1.8,1.3],[0.25,4.6],[1.3,3.2],[0.7,4.45],[1.55,0.5],[0.35,4.3],[1.1,2.8],[0.55,4.1],
  [1.4,2.0],[0.3,3.95],[0.9,1.15],[0.6,3.8],[1.6,2.75],[0.2,3.6],[1.2,0.55],[0.45,3.45],[1.0,2.45],[0.7,3.3],
  [1.3,1.95],[0.25,3.15],[0.8,1.35],[0.5,3.0],[1.45,2.5],[0.15,2.85],[1.05,0.6],[0.4,2.7],[0.7,1.75],[0.3,2.55],
  [1.15,1.55],[0.2,2.45],[0.65,1.0],[0.4,2.3],[1.2,1.75],[0.55,2.1],[0.85,0.3],[0.25,2.0],[0.95,1.4],[0.5,1.85],
  [0.7,1.25],[0.3,1.75],[1.0,0.55],[0.15,1.6],[0.6,1.15],[0.45,1.5],[0.85,0.3],[0.2,1.4],[0.55,0.95],[0.35,1.3],
  [0.7,0.95],[0.2,1.2],[0.45,0.6],[0.1,1.1],[0.65,0.85],[0.3,1.0],[0.55,0.25],[0.15,0.92],[0.4,0.7],[0.25,0.85],
  [0.3,0.62],[0.1,0.78],[0.45,0.2],[0.05,0.7],[0.35,0.5],[0.2,0.64],[0.48,0.08],[0.12,0.58],[0.3,0.42],[0.07,0.52],
  [0.15,0.35],[0.04,0.47],[0.25,0.12],[0.09,0.43],[0.2,0.3],[0.02,0.39],[0.14,0.28],[0.07,0.35],[0.22,0.1],[0.05,0.3],
  [0.04,0.2],[0.12,0.29],[0.06,0.18],[0.15,0.02],[0.03,0.25],[0.09,0.2],[0.14,0.03],[0.05,0.22],[0.11,0.17],[0.02,0.19],
  [0.06,0.13],[0.11,0.03],[0.04,0.16],[0.08,0.02],[0.1,0.14],[0.03,0.07],[0.07,0.12],[0.12,0.02],[0.04,0.09],[0.08,0.11],
  [0.02,0.07],[0.05,0.1],[0.03,0.06],[0.08,0.02],[0.04,0.09],[0.06,0.03],[0.01,0.06],[0.08,0.04],[0.03,0.07],[0.06,0.01],
  [0.04,0.07],[0.01,0.03],[0.06,0.02],[0.03,0.05],[0.07,0.01],[0.02,0.06],[0.04,0.03],[0.06,0.02],[0.01,0.05],[0.05,0.03],
  [0.03,0.06],[0.05,0.02],[0.02,0.04],[0.06,0.01],[0.01,0.04],[0.04,0.06]
];

const skogmoMeasuredA: number[][] = [
  [0.02,0.09,0.05],[0.07,0.01,0.11],[0.04,0.1,0.03],[0.12,0.06,0.01],[0.03,0.08,0.1],[0.09,0.02,0.06],[0.05,0.12,0.01],[0.01,0.07,0.1],[0.11,0.04,0.08],[0.06,0.1,0.02],
  [0.09,0.03,0.12],[0.02,0.13,0.07],[0.14,0.05,0.01],[0.08,0.15,0.04],[0.03,0.1,0.17],[0.18,0.06,0.02],[0.11,0.19,0.05],[0.01,0.14,0.21],[0.22,0.08,0.03],[0.05,0.2,0.12],
  [0.25,0.1,0.02],[0.06,0.27,0.15],[0.3,0.03,0.2],[0.12,0.32,0.07],[0.35,0.22,0.01],[0.08,0.37,0.28],[0.4,0.14,0.04],[0.18,0.43,0.33],[0.02,0.45,0.1],[0.48,0.26,0.06],
  [0.15,0.5,0.38],[0.54,0.07,0.24],[0.32,0.57,0.02],[0.6,0.45,0.13],[0.05,0.64,0.36],[0.67,0.2,0.5],[0.41,0.71,0.09],[0.74,0.28,0.6],[0.12,0.78,0.47],[0.81,0.55,0.18],
  [0.35,0.85,0.06],[0.88,0.62,0.25],[0.14,0.92,0.7],[0.95,0.4,0.03],[0.55,0.99,0.82],[1.02,0.22,0.6],[0.75,1.06,0.1],[1.09,0.45,0.9],[0.3,1.13,0.65],[1.16,0.85,0.15],
  [0.6,1.2,0.35],[1.25,0.9,0.08],[0.2,1.31,1.05],[1.36,0.7,0.4],[1.0,1.42,0.15],[2.0,1.47,0.55],[0.3,1.53,1.2],[1.58,0.8,0.05],[1.1,1.64,0.45],[1.69,0.25,1.35],
  [2.2,1.75,0.6],[1.3,1.82,0.2],[0.5,1.88,1.55],[1.95,1.0,0.35],[0.15,2.01,1.4],[2.6,2.08,0.8],[1.7,2.14,0.25],[2.8,0.55,1.2],[2.27,1.9,0.7],[0.4,2.33,1.6],
  [3.0,2.4,0.9],[1.35,2.48,0.2],[3.2,2.55,1.75],[0.65,2.63,1.1],[2.7,0.3,2.0],[3.4,2.78,1.45],[0.8,2.85,2.25],[3.6,1.6,0.45],[2.5,3.0,1.0],[0.25,3.08,2.3],
  [3.15,1.9,0.7],[2.4,3.23,1.25],[4.0,0.55,2.95],[1.65,3.39,0.2],[2.75,3.47,1.1],[3.55,0.85,2.2],[1.45,3.63,0.4],[4.4,2.6,1.9],[3.3,3.79,0.75],[0.3,3.87,2.45],
  [3.95,1.3,4.6],[2.1,4.03,0.65],[4.8,3.2,1.6],[0.45,4.19,2.8],[4.27,1.0,3.6],[4.35,2.5,0.2],[1.85,4.43,3.25],[5.0,0.9,2.05],[3.75,4.59,1.4],[4.67,2.85,0.55],
  [4.75,1.65,5.3],[2.95,4.83,0.4],[5.3,3.9,1.35],[0.75,4.98,2.4],[5.05,4.35,1.05],[5.8,1.9,3.15],[0.3,5.2,2.7],[5.28,3.65,0.95],[2.2,5.35,4.5],[5.43,1.25,3.05],
  [5.5,3.8,0.6],[6.1,2.35,4.65],[1.55,5.64,3.4],[5.71,0.45,2.15],[4.05,5.78,1.2],[5.85,2.9,5.0],[0.85,5.92,3.55],[5.99,4.45,1.75],[6.3,2.05,0.35],[6.13,5.25,2.75],
  [6.6,6.2,1.45],[3.3,6.26,0.7],[6.32,4.85,2.5],[1.15,6.38,3.95],[6.44,2.25,5.45],[3.7,6.5,0.25],[6.56,1.6,4.4],[5.7,6.62,2.9],[0.55,6.68,3.5],[7.1,6.74,1.85],
  [2.6,6.8,4.95],[6.86,0.9,3.25],[4.25,6.91,1.5],[7.0,5.85,2.15],[0.4,7.02,3.85],[7.08,2.8,5.4],[1.3,7.13,4.6],[7.19,6.3,0.85],[3.1,7.24,2.35],[7.3,1.75,5.15],
  [4.0,7.35,0.65],[7.39,2.55,6.1],[1.2,7.43,3.45],[7.47,5.0,1.95],[6.55,7.51,0.3],[7.55,3.05,4.7],[7.7,1.55,2.4],[7.63,5.7,0.9],[2.85,7.67,4.3],[8.0,7.71,1.35],
  [7.75,3.6,6.25],[1.0,7.78,4.95],[7.81,2.15,0.45],[5.45,7.84,3.3],[8.1,1.7,6.8],[7.9,4.2,8.3],[2.5,7.93,0.8],[7.96,5.95,3.75],[1.45,7.99,7.05],[8.02,4.6,2.0],
  [8.05,6.6,0.6],[2.9,8.06,5.25],[8.07,1.25,3.95],[8.05,4.75,7.35],[0.95,8.09,2.55],[8.4,6.1,3.4],[5.0,8.11,1.6],[8.12,2.2,7.15],[3.6,8.13,0.4],[8.14,5.6,1.8],
  [8.15,3.15,6.85],[1.45,8.15,4.7],[8.14,6.45,2.35],[8.5,0.7,5.15],[3.85,8.13,7.7],[8.12,2.6,8.3],[5.55,8.11,1.2],[8.1,4.1,3.05],[9.0,6.25,0.55],[2.1,8.06,5.85],
  [8.05,1.7,4.45],[6.9,8.02,3.2],[0.85,7.99,2.4],[8.0,5.05,7.25],[8.4,3.65,1.05],[7.9,2.15,5.6],[4.8,7.87,0.35],[7.84,6.7,2.9],[1.5,7.81,4.1],[7.78,3.35,6.2],
  [7.75,5.15,1.25],[2.45,7.71,4.55],[7.66,0.65,6.5],[3.9,7.62,2.05],[8.0,5.8,1.6],[7.53,2.7,4.0],[0.5,7.48,6.75],[7.44,3.45,1.9],[5.55,7.39,0.75],[7.35,2.3,4.85],
  [7.3,4.5,1.45],[3.25,7.25,6.3],[7.2,0.9,2.6],[5.95,7.15,3.8],[7.6,1.7,5.0],[7.05,2.9,0.45],[4.15,7.0,6.55],[6.95,1.15,3.4],[2.45,6.9,5.45],[6.85,4.65,0.8],
  [6.8,2.05,4.9],[3.6,6.75,1.3],[6.7,5.7,2.85],[0.6,6.65,4.0],[6.6,3.3,1.8],[6.55,5.15,0.35],[7.1,2.5,4.45],[1.4,6.4,3.5],[6.4,5.95,2.2],[6.35,0.95,4.15],
  [6.3,3.85,1.7],[2.75,6.24,5.4],[6.17,0.5,3.0],[4.6,6.11,2.3],[6.04,1.25,5.8],[3.25,5.98,0.6],[5.91,4.25,1.9],[1.35,5.85,3.65],[5.78,2.55,0.4],[4.8,5.72,2.15],
  [5.65,3.0,0.85],[1.75,5.58,4.35],[5.51,3.55,2.2],[0.5,5.44,1.3],[5.37,4.45,2.75],[2.4,5.3,0.3],[5.23,3.85,1.6],[1.1,5.16,4.6],[5.09,2.95,0.7],[3.75,5.02,1.95],
  [4.95,2.15,3.4],[1.35,4.88,0.5],[4.81,3.7,2.45],[0.8,4.74,1.55],[4.67,2.85,3.95],[2.05,4.6,0.35],[4.53,3.3,1.25],[4.46,0.65,2.5],[1.85,4.39,3.6],[4.32,2.75,0.9],
  [4.25,1.4,3.05],[2.6,4.17,0.45],[4.08,3.55,1.7],[0.95,4.0,2.35],[3.91,2.8,0.6],[1.6,3.83,3.25],[3.74,0.4,2.0],[3.66,2.65,1.15],[1.35,3.57,3.1],[3.49,2.2,0.75],
  [3.4,1.05,2.55],[2.0,3.32,0.3],[3.24,2.85,1.5],[0.65,3.15,2.25],[3.07,1.75,0.85],[2.99,2.5,3.35],[1.3,2.9,0.45],[2.82,2.1,1.7],[2.74,0.6,1.15],[0.95,2.65,2.2],
  [2.57,1.6,0.5],[2.1,2.5,1.05],[2.44,0.35,1.85],[1.3,2.37,0.75],[2.3,1.95,0.2],[2.6,2.24,1.4],[0.55,2.17,1.6],[2.1,1.15,0.3],[1.8,2.04,0.85],[1.97,0.45,1.4],
  [1.9,1.25,0.35],[0.8,1.84,1.55],[1.78,0.25,1.1],[1.4,1.72,0.6],[1.66,0.95,0.1],[0.45,1.6,1.3],[1.54,1.05,0.7],[1.9,1.48,0.25],[0.6,1.42,1.15],[1.36,0.85,0.15],
  [1.3,0.5,1.0],[0.75,1.25,0.2],[1.21,0.95,0.45],[0.3,1.16,0.8],[1.12,0.6,0.1],[1.2,1.07,0.4],[0.25,1.03,0.75],[1.5,0.98,0.5],[0.65,0.94,0.05],[0.89,0.3,0.7],
  [0.85,0.45,0.15],[0.35,0.82,0.6],[1.2,0.79,0.25],[0.1,0.76,0.5],[0.73,0.38,0.02],[0.9,0.7,0.3],[0.55,0.67,0.08],[0.2,0.64,0.45],[0.88,0.61,0.12],[0.4,0.58,0.03],
  [0.55,0.9,0.2],[0.05,0.52,0.88],[0.49,0.3,0.85],[0.92,0.46,0.1],[0.43,0.18,0.87],[0.02,0.4,0.86],[0.9,0.37,0.14],[0.34,0.95,0.06],[0.88,0.31,0.2],[0.03,0.28,0.85],
  [0.9,0.25,0.08],[0.14,0.88,0.02],[0.22,0.05,0.85],[0.87,0.18,0.11],[0.02,0.17,0.85],[0.84,0.09,0.15],[0.13,0.87,0.04],[0.86,0.12,0.01],[0.07,0.9,0.11],[0.1,0.03,0.88],
  [0.85,0.08,0.02],[0.05,0.8,0.09],[0.82,0.02,0.06],[0.1,0.04,0.86],[0.85,0.07,0.01],[0.03,0.83,0.08],[0.06,0.01,0.84],[0.9,0.09,0.04],[0.02,0.86,0.07],[0.08,0.03,0.82],
  [0.82,0.05,0.01],[0.07,0.84,0.03],[0.01,0.06,0.83],[0.85,0.02,0.08],[0.04,0.82,0.06],[0.09,0.01,0.85],[0.8,0.05,0.03],[0.02,0.84,0.09],[0.06,0.04,0.82],[0.85,0.08,0.01],
  [0.03,0.81,0.06],[0.07,0.02,0.84],[0.8,0.05,0.09],[0.01,0.83,0.04],[0.06,0.08,0.82],[0.83,0.03,0.02],[0.05,0.8,0.07],[0.02,0.06,0.04],[0.08,0.01,0.05],[0.04,0.07,0.02],
  [0.06,0.03,0.08],[0.01,0.05,0.03],[0.07,0.02,0.06],[0.03,0.08,0.01],[0.05,0.04,0.07],[0.02,0.06,0.03]
];

const skogmoMeasuredB: number[][] = [
  [0.04,0.07],[0.02,0.1],[0.08,0.01],[0.05,0.11],[0.1,0.03],[0.01,0.06],[0.07,0.09],[0.03,0.12],[0.09,0.02],[0.04,0.08],
  [0.06,0.11],[0.1,0.02],[0.03,0.09],[0.12,0.05],[0.01,0.15],[0.07,0.11],[0.14,0.03],[0.04,0.18],[0.09,0.06],[0.16,0.02],
  [0.03,0.2],[0.1,0.06],[0.17,0.25],[0.05,0.12],[0.22,0.04],[0.14,0.3],[0.02,0.18],[0.25,0.09],[0.12,0.38],[0.06,0.2],
  [0.28,0.05],[0.12,0.42],[0.04,0.25],[0.2,0.52],[0.35,0.1],[0.08,0.45],[0.25,0.58],[0.15,0.04],[0.4,0.3],[0.06,0.7],
  [0.22,0.55],[0.45,0.1],[0.1,0.75],[0.3,0.5],[0.18,0.05],[0.6,0.9],[0.05,0.4],[0.35,0.95],[0.7,0.2],[0.15,0.9],
  [0.4,1.0],[0.08,0.6],[0.6,0.25],[0.25,1.2],[0.75,0.5],[0.12,1.05],[0.5,1.6],[0.3,0.15],[0.85,1.45],[0.2,0.9],
  [0.55,1.3],[0.1,1.65],[0.9,0.45],[0.35,1.95],[0.65,1.2],[0.2,2.2],[1.1,0.7],[0.45,2.4],[0.05,1.45],[0.8,2.55],
  [0.3,1.65],[1.05,2.7],[0.5,0.4],[0.15,2.05],[1.25,2.9],[0.6,1.1],[0.35,3.1],[1.4,0.6],[0.1,2.7],[0.75,3.35],
  [1.1,0.35],[0.45,2.75],[0.2,1.55],[1.5,3.5],[0.7,0.55],[0.3,3.8],[1.2,2.3],[0.55,3.15],[1.75,0.85],[0.9,3.95],
  [0.4,2.55],[1.3,4.3],[0.15,1.2],[0.85,3.9],[1.6,0.45],[0.55,4.5],[1.05,2.0],[0.25,3.45],[1.9,4.8],[0.7,1.05],
  [1.2,3.85],[0.35,5.0],[1.65,1.45],[0.6,4.6],[0.2,2.95],[1.45,5.4],[0.8,0.6],[2.1,4.1],[0.45,5.6],[1.05,2.05],
  [0.3,4.4],[1.8,5.85],[0.65,1.05],[1.25,3.7],[0.1,6.0],[2.3,2.5],[0.9,5.5],[0.4,4.8],[1.55,6.25],[0.75,1.4],
  [1.4,4.2],[0.2,6.45],[2.15,3.05],[0.55,5.95],[1.05,1.65],[1.8,6.6],[0.35,4.9],[2.5,3.8],[0.85,6.9],[1.25,2.4],
  [0.5,6.15],[1.9,4.05],[0.25,6.95],[1.35,2.75],[2.6,7.2],[0.7,5.2],[1.55,1.05],[0.4,6.6],[2.2,4.45],[1.0,7.4],
  [0.6,3.2],[1.75,7.55],[0.3,5.35],[2.45,1.75],[0.95,7.25],[1.3,4.25],[0.15,6.8],[2.05,7.8],[0.8,2.6],[1.6,5.6],
  [0.45,7.95],[2.35,3.9],[1.15,6.5],[0.65,1.4],[1.9,7.55],[0.3,5.05],[2.7,8.0],[1.0,2.85],[1.45,6.1],[0.55,7.75],
  [2.2,4.5],[0.85,8.25],[1.6,2.35],[0.4,6.4],[2.45,7.9],[1.15,3.5],[0.7,8.3],[1.95,5.75],[0.25,7.5],[1.35,8.6],
  [2.6,4.95],[0.95,7.85],[1.5,2.55],[0.5,6.95],[2.15,8.45],[1.2,4.0],[0.35,7.3],[1.85,8.2],[0.75,5.5],[2.4,7.95],
  [1.05,3.8],[0.45,8.3],[2.25,6.1],[1.4,2.7],[0.6,7.6],[1.85,4.8],[0.3,8.1],[2.5,6.5],[1.15,1.7],[0.8,7.55],
  [1.6,5.75],[0.35,7.95],[2.3,3.35],[0.95,6.95],[1.3,2.15],[0.5,7.4],[2.0,4.85],[1.2,7.75],[0.7,3.65],[1.75,6.75],
  [0.4,7.1],[2.15,4.35],[1.0,6.45],[0.6,2.0],[1.85,7.35],[1.35,5.25],[0.25,3.15],[2.4,6.85],[0.9,1.55],[1.55,7.2],
  [0.5,4.1],[1.95,6.3],[1.1,2.5],[0.3,6.9],[2.25,5.1],[0.75,3.45],[1.5,6.7],[0.45,1.7],[2.0,5.55],[1.2,6.55],
  [0.35,4.75],[1.65,2.2],[0.8,6.4],[2.15,3.7],[0.55,5.6],[1.3,6.55],[0.2,2.8],[1.9,5.05],[1.0,3.95],[0.6,6.0],
  [1.55,2.5],[0.3,5.2],[2.0,4.05],[0.85,5.9],[1.2,1.45],[0.45,4.9],[1.75,3.2],[1.05,5.5],[0.25,2.35],[1.45,4.4],
  [0.65,5.25],[1.9,3.1],[0.4,4.35],[1.25,1.8],[0.9,5.0],[1.6,2.85],[0.2,4.7],[1.15,3.75],[0.55,1.2],[1.8,4.5],
  [0.35,3.5],[1.3,4.45],[0.75,2.05],[1.55,3.7],[0.15,4.3],[1.05,1.55],[0.6,3.95],[1.7,2.95],[0.3,1.75],[1.2,3.8],
  [0.5,2.85],[1.45,1.2],[0.8,3.5],[0.25,2.05],[1.15,3.2],[0.6,1.45],[1.6,2.6],[0.35,3.05],[0.95,1.8],[0.15,2.85],
  [1.25,2.2],[0.45,1.55],[0.85,2.65],[0.2,1.15],[1.05,2.45],[0.6,0.8],[1.4,2.3],[0.3,1.9],[0.75,0.45],[1.15,2.1],
  [0.4,1.6],[1.0,0.55],[0.2,1.95],[0.65,1.2],[1.2,0.35],[0.35,1.85],[0.8,1.35],[0.1,1.65],[0.55,0.9],[1.05,1.5],
  [0.3,1.15],[0.7,0.45],[0.15,1.35],[0.5,0.95],[0.85,0.2],[0.25,1.1],[0.6,0.85],[0.1,1.25],[0.4,0.6],[0.75,1.0],
  [0.2,0.65],[0.5,0.9],[0.05,0.55],[0.35,0.85],[0.6,0.15],[0.15,0.72],[0.4,0.3],[0.08,0.6],[0.3,0.48],[0.12,0.62],
  [0.28,0.45],[0.1,0.15],[0.22,0.56],[0.04,0.33],[0.3,0.12],[0.16,0.42],[0.06,0.25],[0.2,0.05],[0.12,0.36],[0.02,0.15],
  [0.15,0.06],[0.08,0.2],[0.12,0.03],[0.04,0.16],[0.1,0.07],[0.02,0.12],[0.07,0.15],[0.11,0.04],[0.03,0.09],[0.06,0.13],
  [0.04,0.1],[0.08,0.02],[0.03,0.07],[0.06,0.11],[0.01,0.05],[0.09,0.03],[0.05,0.08],[0.02,0.06],[0.07,0.01],[0.04,0.09],
  [0.06,0.02],[0.03,0.08],[0.07,0.04],[0.02,0.05],[0.08,0.01],[0.04,0.07],[0.06,0.02],[0.01,0.05],[0.05,0.08],[0.03,0.02],
  [0.07,0.04],[0.02,0.06],[0.05,0.01],[0.08,0.03],[0.03,0.07],[0.06,0.02],[0.01,0.05],[0.04,0.08],[0.07,0.03],[0.02,0.06],
  [0.05,0.02],[0.03,0.08],[0.06,0.04],[0.01,0.07],[0.04,0.03],[0.07,0.05]
];

const panelTitles = ["Landvik 1996-2000", "Fureneset 1996-2000", "Skogmo 1996-2000"];
const legendLabels = ["Measured", "Modelled clear sky"];
const xAxisTitle = "Day of the year";
const yAxisTitle = "Daily global radiation [kWhm-2]";
const xTickValues = [0, 50, 100, 150, 200, 250, 300, 350];
const xTickLabels = ["0", "50", "100", "150", "200", "250", "300", "350"];
const yTickValues = [0, 2.5, 5, 7.5, 10];
const yTickLabels = ["0", "2.5", "5", "7.5", "10"];

const panelClear = [landvikClear, furenesetClear, skogmoClear];
const panelMeasured = [
  [landvikMeasuredA, landvikMeasuredB],
  [furenesetMeasuredA, furenesetMeasuredB],
  [skogmoMeasuredA, skogmoMeasuredB],
];

// ---------- layout constants ----------
const CANVAS_W = 970;
const CANVAS_H = 392;

let dotSprite: HTMLCanvasElement | null = null;
function getDot(): HTMLCanvasElement {
  if (!dotSprite) {
    dotSprite = document.createElement("canvas");
    dotSprite.width = 2;
    dotSprite.height = 2;
    const c = dotSprite.getContext("2d")!;
    c.fillStyle = "#000";
    c.fillRect(0, 0, 2, 2);
  }
  return dotSprite;
}

// draw the 2px measurement dots pixel-crisp (no smoothing), like the original bitmap plot
const crispPlugin = {
  id: "crispDots",
  beforeDatasetsDraw(chart: any) {
    chart.ctx.save();
    chart.ctx.imageSmoothingEnabled = false;
  },
  afterDatasetsDraw(chart: any) {
    chart.ctx.restore();
  },
};

const framePlugin = {
  id: "matlabFrame",
  afterDatasetsDraw(chart: any) {
    const { ctx, chartArea } = chart;
    const { left, right, top, bottom } = chartArea;
    const xs = chart.scales.x;
    const ys = chart.scales.y;
    ctx.save();
    ctx.strokeStyle = "#000";
    ctx.lineWidth = 1;
    const L = Math.round(left) + 0.5;
    const R = Math.round(right) - 0.5;
    const T = Math.round(top) + 0.5;
    const B = Math.round(bottom) + 0.5;
    ctx.strokeRect(L, T, R - L, B - T);
    const tl = 8;
    ctx.beginPath();
    xTickValues.forEach((v) => {
      const px = Math.round(xs.getPixelForValue(v)) + 0.5;
      ctx.moveTo(px, B);
      ctx.lineTo(px, B - tl);
      ctx.moveTo(px, T);
      ctx.lineTo(px, T + tl);
    });
    yTickValues.forEach((v) => {
      const py = Math.round(ys.getPixelForValue(v)) + 0.5;
      ctx.moveTo(L, py);
      ctx.lineTo(L + tl, py);
      ctx.moveTo(R, py);
      ctx.lineTo(R - tl, py);
    });
    ctx.stroke();

    // legend box
    const bw = 293;
    const bh = 76;
    const bx1 = Math.round(right - 12.7) + 0.5;
    const bx0 = bx1 - bw;
    const by0 = Math.round(top + 13) + 0.5;
    ctx.fillStyle = "#fff";
    ctx.fillRect(bx0, by0, bw, bh);
    ctx.strokeRect(bx0, by0, bw, bh);
    const ds = chart.data.datasets;
    const row1 = by0 + 22.4;
    const row2 = by0 + 56.7;
    ctx.fillStyle = "#000";
    ctx.fillRect(Math.round(bx0 + 56) - 1, Math.round(row1) - 1, 2, 2);
    ctx.beginPath();
    ctx.lineWidth = 1.3;
    ctx.moveTo(bx0 + 15.6, Math.round(row2) + 0.5);
    ctx.lineTo(bx0 + 96.6, Math.round(row2) + 0.5);
    ctx.stroke();
    ctx.font = `21px ${FONT}`;
    ctx.textBaseline = "middle";
    ctx.textAlign = "left";
    ctx.fillText(ds[0].label, bx0 + 101.6, row1);
    ctx.fillText(ds[1].label, bx0 + 101.6, row2);
    ctx.restore();
  },
};

function makeConfig(i: number): any {
  const measured = panelMeasured[i].flatMap((part) =>
    part.flatMap((vals, day) => vals.map((v) => ({ x: day, y: v })))
  );
  const clear = clearDays.map((d, k) => ({ x: d, y: panelClear[i][k] }));
  return {
    type: "scatter",
    data: {
      datasets: [
        {
          label: legendLabels[0],
          data: measured,
          pointStyle: getDot(),
          pointRadius: 1,
          pointBorderWidth: 0,
          backgroundColor: "#000",
          borderColor: "#000",
          showLine: false,
          order: 2,
        },
        {
          label: legendLabels[1],
          data: clear,
          showLine: true,
          pointRadius: 0,
          borderColor: "#000",
          borderWidth: 1.4,
          cubicInterpolationMode: "monotone",
          fill: false,
          order: 1,
        },
      ],
    },
    options: {
      responsive: false,
      animation: false,
      devicePixelRatio: 1,
      events: [],
      layout: { padding: { left: 0, right: CANVAS_W - 962, top: 0, bottom: 0 } },
      plugins: {
        legend: { display: false },
        tooltip: { enabled: false },
        title: {
          display: true,
          text: panelTitles[i],
          color: "#000",
          font: { family: FONT, size: 24, weight: "normal", lineHeight: 1 },
          padding: { top: 6, bottom: 18 },
        },
      },
      scales: {
        x: {
          type: "linear",
          min: 0,
          max: 365,
          afterBuildTicks: (s: any) => {
            s.ticks = xTickValues.map((v) => ({ value: v }));
          },
          afterFit: (s: any) => {
            s.height = 76;
          },
          grid: { display: false, drawTicks: false, tickLength: 0 },
          border: { display: false },
          ticks: {
            color: "#000",
            font: { family: FONT, size: 23, lineHeight: 1 },
            padding: 11,
            maxRotation: 0,
            autoSkip: false,
            includeBounds: false,
            callback: (_v: any, idx: number) => xTickLabels[idx],
          },
          title: {
            display: true,
            text: xAxisTitle,
            color: "#000",
            font: { family: FONT, size: 25, lineHeight: 1 },
            padding: { top: 0, bottom: 8 },
          },
        },
        y: {
          type: "linear",
          min: 0,
          max: 10,
          afterBuildTicks: (s: any) => {
            s.ticks = yTickValues.map((v) => ({ value: v }));
          },
          afterFit: (s: any) => {
            s.width = 99;
          },
          grid: { display: false, drawTicks: false, tickLength: 0 },
          border: { display: false },
          ticks: {
            color: "#000",
            font: { family: FONT, size: 23, lineHeight: 1.2 },
            padding: 10,
            autoSkip: false,
            includeBounds: false,
            callback: (_v: any, idx: number) => yTickLabels[idx],
          },
          title: {
            display: true,
            text: yAxisTitle,
            color: "#000",
            font: { family: FONT, size: 25, lineHeight: 1 },
            padding: { top: 11.5, bottom: 0 },
          },
        },
      },
    },
    plugins: [crispPlugin, framePlugin],
  };
}

function Panel({ index }: { index: number }) {
  const ref = useRef<HTMLCanvasElement | null>(null);
  useEffect(() => {
    if (!ref.current) return;
    const chart = new Chart(ref.current, makeConfig(index));
    return () => chart.destroy();
  }, [index]);
  return (
    <canvas
      ref={ref}
      width={CANVAS_W}
      height={CANVAS_H}
      style={{ position: "absolute", left: 0, top: index * CANVAS_H, width: CANVAS_W, height: CANVAS_H }}
    />
  );
}

export default function App() {
  return (
    <div
      style={{
        position: "fixed",
        left: 0,
        top: 0,
        width: 955,
        height: 1175,
        overflow: "hidden",
        background: "#fff",
      }}
    >
      {panelTitles.map((_t, i) => (
        <Panel key={i} index={i} />
      ))}
    </div>
  );
}
